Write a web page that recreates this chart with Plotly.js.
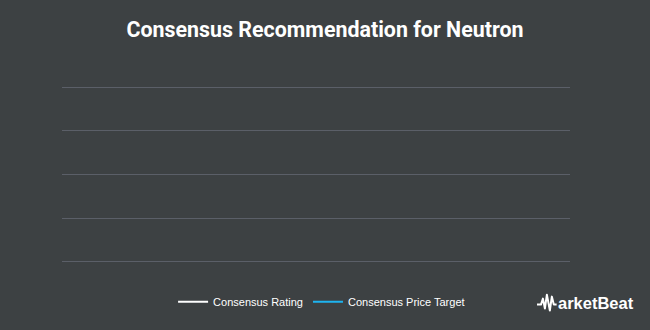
<!DOCTYPE html>
<html>
<head>
<meta charset="utf-8">
<script src="https://cdn.plot.ly/plotly-3.0.1.min.js"></script>
<style>html,body{margin:0;padding:0;background:#3d4143;}#chart{width:650px;height:330px;}</style>
</head>
<body>
<div id="chart"></div>
<script>
// Data (the reference chart shows no plotted values)
var dates = [null];
var ratingValues = [null];
var priceTargetValues = [null];
var seriesNames = ["Consensus Rating", "Consensus Price Target"];
var titleText = "Consensus Recommendation for Neutron";

var traces = [
  {x: dates, y: ratingValues, name: seriesNames[0], type: "scatter", mode: "lines",
   line: {color: "#ffffff", width: 2}, showlegend: true},
  {x: dates, y: priceTargetValues, name: seriesNames[1], type: "scatter", mode: "lines",
   line: {color: "#1eb4f0", width: 2}, showlegend: true}
];

var pulse = 'data:image/svg+xml;utf8,' + encodeURIComponent(
 '<svg xmlns="http://www.w3.org/2000/svg" width="20" height="20" viewBox="0 0 20 20">' +
 '<polyline points="0,12 4,12 6,6 8,16 10,2 13,18 15,4 17,12 20,12" fill="none" stroke="white" stroke-width="2" stroke-linejoin="round"/></svg>');

var layout = {
  width: 650, height: 330,
  paper_bgcolor: "#3d4143", plot_bgcolor: "#3d4143",
  margin: {l: 62, r: 80, t: 84.8, b: 65.8},
  title: {text: "<b>" + titleText + "</b>", x: 0.5, xanchor: "center", y: 0.91, yanchor: "middle",
          font: {family: "Roboto, Arial, sans-serif", size: 21.4, color: "#ffffff"}},
  xaxis: {range: [0, 1], showgrid: false, zeroline: false, showticklabels: false, showline: false, ticks: "", fixedrange: true},
  yaxis: {range: [-0.05, 4.05], dtick: 1, tick0: 0, showgrid: true, gridcolor: "#5b5f68", gridwidth: 1,
          zeroline: false, showticklabels: false, showline: false, ticks: ""},
  showlegend: true,
  legend: {orientation: "h", x: 0.511, xref: "paper", xanchor: "center", y: -0.13, yanchor: "top",
           font: {family: "Arial, sans-serif", size: 11, color: "#ffffff"}, bgcolor: "rgba(0,0,0,0)"},
  images: [{source: pulse, xref: "paper", yref: "paper", x: 0.935, y: -0.16, sizex: 0.039, sizey: 0.111,
            xanchor: "left", yanchor: "top", sizing: "stretch"}],
  annotations: [{text: "<b>arketBeat</b>", xref: "paper", yref: "paper", x: 0.972, y: -0.216, xanchor: "left", yanchor: "middle",
                 showarrow: false, font: {family: "Arial, sans-serif", size: 16.5, color: "#ffffff"}}]
};

Plotly.newPlot("chart", traces, layout, {displayModeBar: false, staticPlot: true});
</script>
</body>
</html>
